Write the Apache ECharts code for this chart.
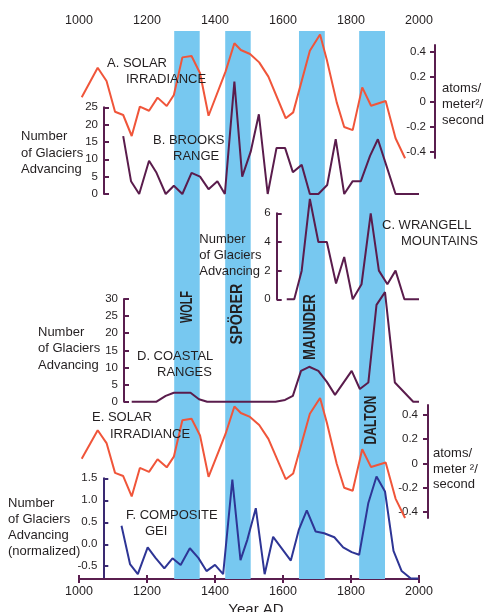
<!DOCTYPE html>
<html>
<head>
<meta charset="utf-8">
<script src="https://cdn.jsdelivr.net/npm/echarts@6/dist/echarts.min.js"></script>
<style>
html,body{margin:0;padding:0;background:#fff;}
#chart{width:485px;height:612px;}
</style>
</head>
<body>
<div id="chart"></div>
<script>
// ---------- DATA ----------
const xTicks = [1000, 1200, 1400, 1600, 1800, 2000];
const bandNames = ['WOLF', 'SPÖRER', 'MAUNDER', 'DALTON'];
const bandStart = [1280, 1430, 1647, 1824];
const bandEnd   = [1355, 1505, 1723, 1900];

const solarYears = [1008, 1055, 1081, 1106, 1130, 1155, 1179, 1206, 1231, 1258, 1279, 1304, 1331, 1356, 1381, 1431, 1457, 1476, 1503, 1530, 1557, 1608, 1630, 1679, 1709, 1729, 1758, 1780, 1805, 1833, 1859, 1902, 1931, 1959];
const solarVals  = [0.038, 0.274, 0.168, -0.078, -0.104, -0.272, -0.037, -0.07, 0.035, -0.032, 0.056, 0.357, 0.368, 0.23, -0.11, 0.243, 0.47, 0.416, 0.384, 0.317, 0.203, -0.13, -0.083, 0.41, 0.54, 0.336, -0.003, -0.2, -0.225, 0.117, -0.03, 0.008, -0.29, -0.45];

const brooksYears = [1130, 1153, 1177, 1206, 1228, 1255, 1279, 1304, 1331, 1356, 1381, 1407, 1429, 1457, 1480, 1505, 1529, 1555, 1581, 1606, 1629, 1655, 1679, 1704, 1730, 1755, 1780, 1805, 1829, 1856, 1879, 1905, 1931, 2000];
const brooksVals  = [16.7, 3.7, 0, 9.6, 6.1, 0, 2.4, 0, 6.1, 5, 1.4, 3.7, 0, 32.4, 5, 12.2, 23, 0, 13.3, 13.3, 6.3, 8.4, 0, 0, 2.6, 15.8, 0, 3.7, 3.7, 11, 15.8, 7.9, 0, 0];

const wrangellYears = [1611, 1633, 1655, 1679, 1704, 1729, 1756, 1780, 1805, 1831, 1858, 1882, 1907, 1931, 1957, 2000];
const wrangellVals  = [0, 0, 2, 7, 4, 4, 1.1, 2.95, 0, 1.05, 6, 2, 1.05, 2, 0, 0];

const coastalYears = [1155, 1228, 1255, 1279, 1328, 1353, 1377, 1578, 1606, 1629, 1653, 1677, 1704, 1729, 1753, 1802, 1826, 1851, 1875, 1900, 1929, 1983, 2000];
const coastalVals  = [0, 0, 1.7, 2.6, 2.6, 0.7, 0, 0, 0.5, 1.7, 9, 10.2, 9, 5.8, 2, 9, 3.7, 5.6, 28.3, 32, 5.6, 0, 0];

const geiYears = [1125, 1150, 1173, 1202, 1225, 1251, 1275, 1299, 1326, 1351, 1375, 1400, 1424, 1451, 1475, 1495, 1520, 1546, 1571, 1623, 1647, 1670, 1696, 1721, 1751, 1777, 1802, 1824, 1851, 1875, 1900, 1925, 1949, 1976, 1998];
const geiVals  = [0.42, -0.45, -0.68, -0.07, -0.31, -0.55, -0.32, -0.47, -0.09, -0.31, -0.61, -0.47, -0.68, 1.47, -0.36, 0.1, 0.82, -0.68, 0.17, -0.37, 0.34, 0.77, 0.29, 0.25, 0.16, -0.07, -0.18, -0.24, 0.94, 1.54, 1.2, -0.15, -0.61, -0.78, -0.78];

const solarTicks = [-0.4, -0.2, 0, 0.2, 0.4];
const geiTicks = [-0.5, 0, 0.5, 1.0, 1.5];

// ---------- STYLE ----------
const FONT = "'Liberation Sans', Arial, Helvetica, sans-serif";
const PURPLE = '#5a1c4c';
const AXIS = '#5a1e4f';
const RED = '#f0553a';
const NAVY = '#2e3595';
const BAND = '#77c8f0';
const TXT = '#231f20';

const zip = (a, b) => a.map((v, i) => [v, b[i]]);

const L = 79, R = 66;
const grids = [
  {left: L, right: R, top: 31, height: 548},      // 0 frame + bands
  {left: L, right: R, top: 45, height: 113},      // 1 A
  {left: L, right: R, top: 107.3, height: 86.7},  // 2 B
  {left: L, right: R, top: 213.3, height: 86},    // 3 C
  {left: L, right: R, top: 299, height: 102.7},   // 4 D
  {left: L, right: R, top: 405, height: 113},     // 5 E
  {left: L, right: R, top: 478.3, height: 100.7}  // 6 F
];

function frameX(pos, margin) {
  return {
    type: 'value', gridIndex: 0, position: pos,
    min: xTicks[0], max: xTicks[xTicks.length - 1], interval: xTicks[1] - xTicks[0],
    axisLine: {show: true, lineStyle: {color: AXIS, width: 2}},
    axisTick: {show: true, inside: true, length: 4, lineStyle: {color: AXIS, width: 2}},
    axisLabel: {show: true, margin: margin, fontFamily: FONT, fontSize: 12.5, color: TXT,
      formatter: v => String(v)},
    splitLine: {show: false}
  };
}
const xAxes = [frameX('top', 4), frameX('bottom', 6)];
for (let g = 1; g <= 6; g++) xAxes.push({type: 'value', gridIndex: g, min: 1000, max: 2000, show: false});

function yAx(g, pos, offset, min, max, opts) {
  const color = (opts && opts.color) || AXIS;
  const ax = {
    type: 'value', gridIndex: g, position: pos, offset: offset, min: min, max: max,
    axisLine: {show: true, lineStyle: {color: color, width: 2}},
    axisTick: {show: true, inside: true, length: 5, lineStyle: {color: color, width: 2}},
    axisLabel: {show: true, inside: pos === 'right', margin: (opts && opts.margin) || 6,
      fontFamily: FONT, fontSize: 11.5, color: TXT},
    splitLine: {show: false}
  };
  if (opts && opts.interval) ax.interval = opts.interval;
  if (opts && opts.custom) {
    ax.axisTick.customValues = opts.custom;
    ax.axisLabel.customValues = opts.custom;
  }
  if (opts && opts.fmt) ax.axisLabel.formatter = opts.fmt;
  return ax;
}
const solarFmt = v => (Math.abs(v) < 1e-9 ? '0' : v.toFixed(1));
const yAxes = [
  {type: 'value', gridIndex: 0, min: 0, max: 1, show: false},
  yAx(1, 'right', 16, -0.448, 0.456, {custom: solarTicks, fmt: solarFmt, margin: 9}),
  yAx(2, 'left', -25, 0, 25, {interval: 5}),
  yAx(3, 'left', -197.7, 0, 6, {interval: 2}),
  yAx(4, 'left', -45, 0, 30, {interval: 5}),
  yAx(5, 'right', 9, -0.45, 0.482, {custom: solarTicks, fmt: solarFmt, margin: 10}),
  yAx(6, 'left', -24.3, -0.79, 1.5, {custom: geiTicks, fmt: v => v.toFixed(1), color: '#3a2a72'})
];

function lineSeries(xi, yi, data, color) {
  return {type: 'line', xAxisIndex: xi, yAxisIndex: yi, data: data, symbol: 'none', clip: false,
    lineStyle: {color: color, width: 2}, z: 3, animation: false};
}

const series = [
  {type: 'line', xAxisIndex: 0, yAxisIndex: 0, data: [], symbol: 'none', z: 1, animation: false,
   markArea: {silent: true, itemStyle: {color: BAND}, label: {show: false},
     data: bandStart.map((s, i) => [{xAxis: s}, {xAxis: bandEnd[i]}])}},
  lineSeries(2, 1, zip(solarYears, solarVals), RED),
  lineSeries(3, 2, zip(brooksYears, brooksVals), PURPLE),
  lineSeries(4, 3, zip(wrangellYears, wrangellVals), PURPLE),
  lineSeries(5, 4, zip(coastalYears, coastalVals), PURPLE),
  lineSeries(6, 5, zip(solarYears, solarVals), RED),
  lineSeries(7, 6, zip(geiYears, geiVals), NAVY)
];

// ---------- TEXT ----------
const texts = [
  ['A. SOLAR', 107, 63], ['IRRADIANCE', 126, 79],
  ['B. BROOKS', 153, 140], ['RANGE', 173, 156.7],
  ['C. WRANGELL', 382, 225.7], ['MOUNTAINS', 401, 241.7],
  ['D. COASTAL', 137, 356], ['RANGES', 157, 372.3],
  ['E. SOLAR', 92, 417.7], ['IRRADIANCE', 110, 434.3],
  ['F. COMPOSITE', 126, 515], ['GEI', 145, 531.7],
  ['Number', 21, 136.7], ['of Glaciers', 21, 153.3], ['Advancing', 21, 169],
  ['Number', 199.3, 239.3], ['of Glaciers', 199.3, 255.7], ['Advancing', 199.3, 271.7],
  ['Number', 38, 332.3], ['of Glaciers', 38, 348.3], ['Advancing', 38, 365],
  ['Number', 8, 503.3], ['of Glaciers', 8, 519.3], ['Advancing', 8, 535.3], ['(normalized)', 8, 551.7],
  ['atoms/', 442, 88.3], ['meter\u00b2/', 442, 104.3], ['second', 442, 120],
  ['atoms/', 433, 453.3], ['meter \u00b2/', 433, 469], ['second', 433, 484.3]
];
const graphics = texts.map(t => ({
  type: 'text', x: t[1], y: t[2], z: 10, silent: true,
  style: {text: t[0], fill: TXT, font: '13px ' + FONT, textAlign: 'left', textVerticalAlign: 'middle'}
}));
graphics.push({type: 'text', x: 256, y: 602, z: 10, silent: true,
  style: {text: 'Year AD', fill: TXT, font: '15px ' + FONT, textAlign: 'center', textVerticalAlign: 'top'}});

// band labels (rotated)
const bandLabelPos = [[188, 307, 0.68], [238, 314, 0.9], [311, 327, 0.8], [372, 420, 0.75]];
bandNames.forEach((n, i) => {
  const p = bandLabelPos[i];
  graphics.push({type: 'text', x: p[0], y: p[1], rotation: Math.PI / 2, scaleX: p[2], z: 10, silent: true,
    style: {text: n, fill: TXT, font: 'bold 16px ' + FONT, textAlign: 'center', textVerticalAlign: 'middle'}});
});

const chart = echarts.init(document.getElementById('chart'), null, {renderer: 'canvas'});
chart.setOption({
  animation: false,
  backgroundColor: '#fff',
  grid: grids,
  xAxis: xAxes,
  yAxis: yAxes,
  series: series,
  graphic: graphics
});
</script>
</body>
</html>
